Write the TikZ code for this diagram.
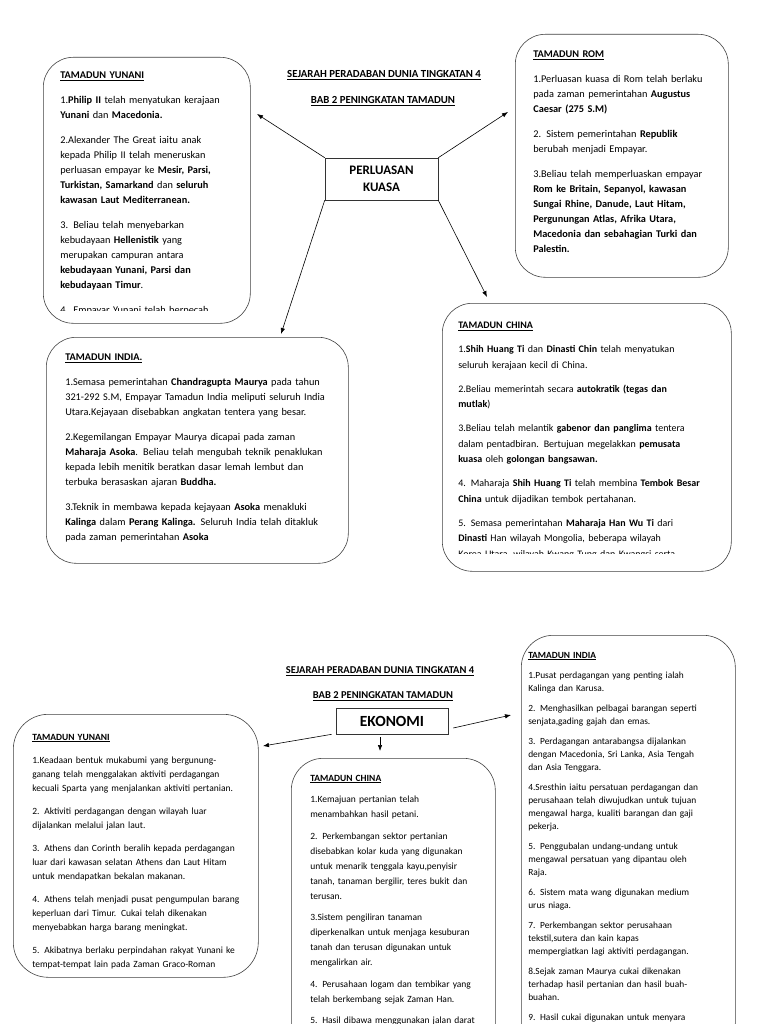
\documentclass[tikz,border=0pt]{standalone}
\usepackage{fontspec}
\setmainfont{Carlito}
\usetikzlibrary{arrows.meta}

\begin{document}
\begin{tikzpicture}[
    x=1pt, y=-1pt,
    line width=0.6pt,
    every node/.style={text=black},
    kotak/.style={draw=black!75, rounded corners=30pt, anchor=north west, inner sep=0pt},
    isiatas/.style={anchor=base west, inner sep=0pt, align=left, font=\fontsize{10.3}{15}\selectfont},
    isibawah/.style={anchor=base west, inner sep=0pt, align=left},
    tajuk/.style={font=\fontsize{10.8}{12}\selectfont\bfseries, inner sep=0pt},
    pusat/.style={draw=black!80, inner sep=0pt, align=center},
    panah/.style={-{Latex[length=6pt,width=4.5pt]}, line width=0.6pt}
  ]
  \clip (0,0) rectangle (768,1024);

  %--------------------------------------
  % 1) Perluasan kuasa (upper half)
  %--------------------------------------
  \node[tajuk] (judul1) at (384,75) {\underline{SEJARAH PERADABAN DUNIA TINGKATAN 4}};
  \node[tajuk] (bab1) at (383,101) {\underline{BAB 2 PENINGKATAN TAMADUN}};

  \node[pusat, minimum width=113, minimum height=42,
        font=\fontsize{13}{16.5}\selectfont\bfseries] (kuasa) at (381.5,179) {PERLUASAN\\KUASA};

  % boxes
  \node[kotak, minimum width=207, minimum height=266] (yunani1) at (43,57) {};
  \node[kotak, minimum width=213, minimum height=243] (rom1) at (515,34) {};
  \node[kotak, minimum width=302, minimum height=226] (india1) at (46,337) {};
  \node[kotak, minimum width=289, minimum height=268] (china1) at (442,303) {};

  % Tamadun Yunani
  \begin{scope}
    \clip (44,58) rectangle (249,310.5);
    \node[isiatas, text width=190] (yunani1text) at (60,78.5) {%
      \underline{\textbf{TAMADUN YUNANI}}\\[10pt]
      1.\textbf{Philip II} telah menyatukan kerajaan\\
      \textbf{Yunani} dan \textbf{Macedonia.}\\[10pt]
      2.Alexander The Great iaitu anak\\
      kepada Philip II telah meneruskan\\
      perluasan empayar ke \textbf{Mesir, Parsi,}\\
      \textbf{Turkistan, Samarkand} dan \textbf{seluruh}\\
      \textbf{kawasan Laut Mediterranean.}\\[10pt]
      3. Beliau telah menyebarkan\\
      kebudayaan \textbf{Hellenistik} yang\\
      merupakan campuran antara\\
      \textbf{kebudayaan Yunani, Parsi dan}\\
      \textbf{kebudayaan Timur}.\\[10pt]
      4. Empayar Yunani telah berpecah};
  \end{scope}

  % Tamadun Rom
  \node[isiatas, text width=195] (rom1text) at (533,57.5) {%
    \underline{\textbf{TAMADUN ROM}}\\[10pt]
    1.Perluasan kuasa di Rom telah berlaku\\
    pada zaman pemerintahan \textbf{Augustus}\\
    \textbf{Caesar (275 S.M)}\\[10pt]
    2. Sistem pemerintahan \textbf{Republik}\\
    berubah menjadi Empayar.\\[10pt]
    3.Beliau telah memperluaskan empayar\\
    \textbf{Rom ke Britain, Sepanyol, kawasan}\\
    \textbf{Sungai Rhine, Danude, Laut Hitam,}\\
    \textbf{Pergunungan Atlas, Afrika Utara,}\\
    \textbf{Macedonia dan sebahagian Turki dan}\\
    \textbf{Palestin.}};

  % Tamadun India
  \node[isiatas, text width=280] (india1text) at (65,360.5) {%
    \underline{\textbf{TAMADUN INDIA.}}\\[10pt]
    1.Semasa pemerintahan \textbf{Chandragupta Maurya} pada tahun\\
    321-292 S.M, Empayar Tamadun India meliputi seluruh India\\
    Utara.Kejayaan disebabkan angkatan tentera yang besar.\\[10pt]
    2.Kegemilangan Empayar Maurya dicapai pada zaman\\
    \textbf{Maharaja Asoka}. Beliau telah mengubah teknik penaklukan\\
    kepada lebih menitik beratkan dasar lemah lembut dan\\
    terbuka berasaskan ajaran \textbf{Buddha.}\\[10pt]
    3.Teknik in membawa kepada kejayaan \textbf{Asoka} menakluki\\
    \textbf{Kalinga} dalam \textbf{Perang Kalinga.} Seluruh India telah ditakluk\\
    pada zaman pemerintahan \textbf{Asoka}};

  % Tamadun China
  \begin{scope}
    \clip (443,304) rectangle (730,553.5);
    \node[isiatas, text width=272, font=\fontsize{10}{15.5}\selectfont] (china1text) at (458,328.5) {%
      \underline{\textbf{TAMADUN CHINA}}\\[8.5pt]
      1.\textbf{Shih Huang Ti} dan \textbf{Dinasti Chin} telah menyatukan\\
      seluruh kerajaan kecil di China.\\[8.5pt]
      2.Beliau memerintah secara \textbf{autokratik (tegas dan}\\
      \textbf{mutlak})\\[8.5pt]
      3.Beliau telah melantik \textbf{gabenor dan panglima} tentera\\
      dalam pentadbiran. Bertujuan megelakkan \textbf{pemusata}\\
      \textbf{kuasa} oleh \textbf{golongan bangsawan.}\\[8.5pt]
      4. Maharaja \textbf{Shih Huang Ti} telah membina \textbf{Tembok Besar}\\
      \textbf{China} untuk dijadikan tembok pertahanan.\\[8.5pt]
      5. Semasa pemerintahan \textbf{Maharaja Han Wu Ti} dari\\
      \textbf{Dinasti} Han wilayah Mongolia, beberapa wilayah\\
      Korea Utara, wilayah Kwang Tung dan Kwangsi serta};
  \end{scope}

  % arrows out of the centre box
  \coordinate (hujungyunani1) at (257,114);
  \coordinate (hujungrom1) at (508,112);
  \coordinate (hujungindia1) at (281,334);
  \coordinate (hujungchina1) at (487,297);
  \draw[panah] (kuasa.north west) -- (hujungyunani1);
  \draw[panah] (kuasa.north east) -- (hujungrom1);
  \draw[panah] (kuasa.south west) -- (hujungindia1);
  \draw[panah] (kuasa.south east) -- (hujungchina1);

  %--------------------------------------
  % 2) Ekonomi (lower half)
  %--------------------------------------
  \node[tajuk, font=\fontsize{10.5}{12}\selectfont\bfseries] (judul2) at (380,671) {\underline{SEJARAH PERADABAN DUNIA TINGKATAN 4}};
  \node[tajuk, font=\fontsize{10.5}{12}\selectfont\bfseries] (bab2) at (383,696) {\underline{BAB 2 PENINGKATAN TAMADUN}};

  \node[pusat, minimum width=112, minimum height=26,
        font=\fontsize{15.5}{17}\selectfont\bfseries] (ekonomi) at (392,721) {EKONOMI};

  % boxes
  \node[kotak, minimum width=245, minimum height=263, rounded corners=35pt] (yunani2) at (13,714) {};
  \node[kotak, minimum width=204, minimum height=300, rounded corners=32pt] (china2) at (291,758) {};
  \node[kotak, minimum width=214, minimum height=420, rounded corners=32pt] (india2) at (521,635) {};

  % Tamadun Yunani
  \begin{scope}
    \clip (14,715) rectangle (257,968);
    \node[isibawah, text width=235, font=\fontsize{9.5}{14}\selectfont] (yunani2text) at (32,740) {%
      \underline{\textbf{TAMADUN YUNANI}}\\[9pt]
      1.Keadaan bentuk mukabumi yang bergunung-\\
      ganang telah menggalakan aktiviti perdagangan\\
      kecuali Sparta yang menjalankan aktiviti pertanian.\\[9pt]
      2. Aktiviti perdagangan dengan wilayah luar\\
      dijalankan melalui jalan laut.\\[9pt]
      3. Athens dan Corinth beralih kepada perdagangan\\
      luar dari kawasan selatan Athens dan Laut Hitam\\
      untuk mendapatkan bekalan makanan.\\[9pt]
      4. Athens telah menjadi pusat pengumpulan barang\\
      keperluan dari Timur. Cukai telah dikenakan\\
      menyebabkan harga barang meningkat.\\[9pt]
      5. Akibatnya berlaku perpindahan rakyat Yunani ke\\
      tempat-tempat lain pada Zaman Graco-Roman};
  \end{scope}

  % Tamadun China
  \node[isibawah, text width=190, font=\fontsize{9.5}{15}\selectfont] (china2text) at (310,781) {%
    \underline{\textbf{TAMADUN CHINA}}\\[6.5pt]
    1.Kemajuan pertanian telah\\
    menambahkan hasil petani.\\[6.5pt]
    2. Perkembangan sektor pertanian\\
    disebabkan kolar kuda yang digunakan\\
    untuk menarik tenggala kayu,penyisir\\
    tanah, tanaman bergilir, teres bukit dan\\
    terusan.\\[6.5pt]
    3.Sistem pengiliran tanaman\\
    diperkenalkan untuk menjaga kesuburan\\
    tanah dan terusan digunakan untuk\\
    mengalirkan air.\\[6.5pt]
    4. Perusahaan logam dan tembikar yang\\
    telah berkembang sejak Zaman Han.\\[6.5pt]
    5. Hasil dibawa menggunakan jalan darat};

  % Tamadun India
  \node[isibawah, text width=205, font=\fontsize{9.4}{13}\selectfont] (india2text) at (528,658) {%
    \underline{\textbf{TAMADUN INDIA}}\\[7pt]
    1.Pusat perdagangan yang penting ialah\\
    Kalinga dan Karusa.\\[7pt]
    2. Menghasilkan pelbagai barangan seperti\\
    senjata,gading gajah dan emas.\\[7pt]
    3. Perdagangan antarabangsa dijalankan\\
    dengan Macedonia, Sri Lanka, Asia Tengah\\
    dan Asia Tenggara.\\[7pt]
    4.Sresthin iaitu persatuan perdagangan dan\\
    perusahaan telah diwujudkan untuk tujuan\\
    mengawal harga, kualiti barangan dan gaji\\
    pekerja.\\[7pt]
    5. Penggubalan undang-undang untuk\\
    mengawal persatuan yang dipantau oleh\\
    Raja.\\[7pt]
    6. Sistem mata wang digunakan medium\\
    urus niaga.\\[7pt]
    7. Perkembangan sektor perusahaan\\
    tekstil,sutera dan kain kapas\\
    mempergiatkan lagi aktiviti perdagangan.\\[7pt]
    8.Sejak zaman Maurya cukai dikenakan\\
    terhadap hasil pertanian dan hasil buah-\\
    buahan.\\[7pt]
    9. Hasil cukai digunakan untuk menyara};

  % arrows out of the centre box
  \coordinate (hujungyunani2) at (263,746);
  \coordinate (hujungindia2) at (511,715);
  \coordinate (hujungchina2) at (380,751);
  \draw[panah] ([xshift=-4pt]ekonomi.south west) -- (hujungyunani2);
  \draw[panah] ([xshift=5pt,yshift=-7pt]ekonomi.east) -- (hujungindia2);
  \draw[panah] ([xshift=-12pt,yshift=-3pt]ekonomi.south) -- (hujungchina2);

\end{tikzpicture}
\end{document}
